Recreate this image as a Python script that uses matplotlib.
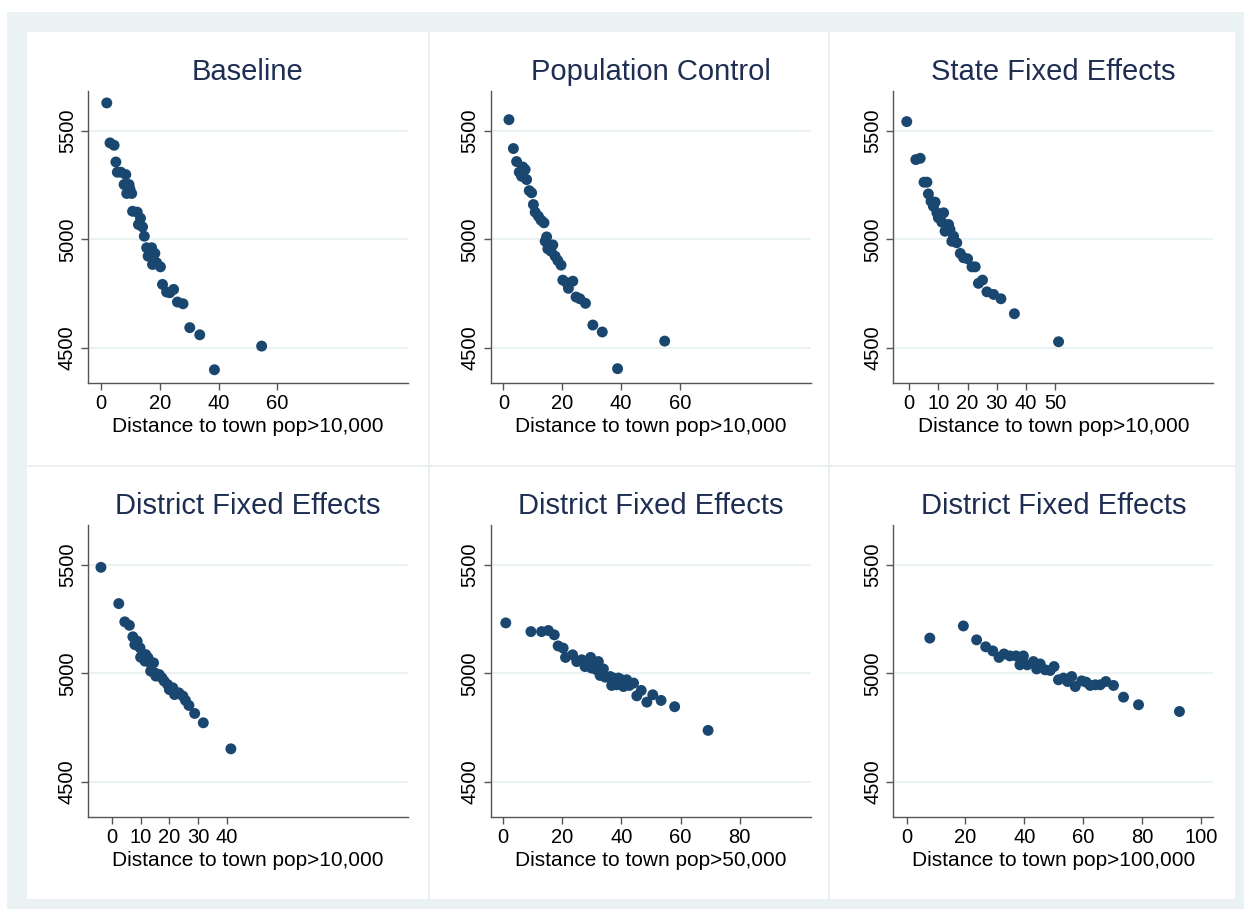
import numpy as np
import matplotlib
matplotlib.use("Agg")
import matplotlib.pyplot as plt
from matplotlib.patches import Rectangle
from matplotlib.lines import Line2D

plt.rcParams['font.family'] = ['Liberation Sans', 'DejaVu Sans']

# ---- data (binned means) ----
base_x = [1.9, 3.0, 4.4, 5.0, 5.5, 6.7, 8.4, 7.8, 9.5, 8.7, 10.4, 9.8, 10.7, 12.3,
          13.4, 12.7, 14.1, 14.7, 15.5, 17.2, 16.0, 18.3, 17.5, 18.9, 20.2, 20.9,
          22.3, 23.4, 24.7, 26.0, 27.9, 30.2, 33.6, 38.6, 54.7]
base_y = [5629, 5445, 5434, 5357, 5310, 5310, 5299, 5253, 5253, 5212, 5212, 5233,
          5130, 5126, 5098, 5069, 5058, 5015, 4962, 4962, 4923, 4936, 4885, 4893,
          4874, 4793, 4758, 4755, 4770, 4712, 4704, 4594, 4561, 4400, 4509]

pop_x = [1.9, 3.4, 4.5, 5.4, 6.6, 7.4, 6.2, 7.9, 8.8, 9.6, 10.2, 10.8, 11.9, 12.8,
         13.8, 14.7, 14.2, 15.1, 16.8, 16.2, 17.6, 18.5, 19.6, 20.2, 21.5, 23.6,
         22.1, 24.7, 26.0, 27.9, 30.4, 33.6, 38.8, 54.8]
pop_y = [5552, 5419, 5359, 5310, 5334, 5322, 5291, 5276, 5225, 5215, 5161, 5126,
         5107, 5089, 5077, 5012, 4992, 4957, 4975, 4946, 4923, 4903, 4882, 4813,
         4801, 4808, 4775, 4735, 4727, 4706, 4606, 4574, 4405, 4532]

state_x = [-0.8, 2.3, 3.8, 5.1, 6.1, 6.6, 7.5, 8.9, 8.3, 9.5, 11.8, 10.0, 11.2, 13.5,
           12.3, 14.0, 15.2, 14.6, 16.3, 17.5, 18.6, 20.0, 21.5, 22.6, 23.7, 25.1,
           26.6, 28.9, 31.4, 36.0, 51.1]
state_y = [5543, 5368, 5374, 5264, 5264, 5210, 5176, 5172, 5153, 5123, 5123, 5100,
           5080, 5069, 5038, 5046, 5015, 4992, 4985, 4936, 4916, 4911, 4874, 4874,
           4798, 4813, 4759, 4747, 4727, 4658, 4529]

dist10_x = [-3.8, 2.4, 4.5, 6.1, 7.3, 8.8, 8.0, 9.8, 10.0, 11.8, 12.6, 11.5, 13.3,
            14.5, 13.5, 14.9, 15.3, 16.5, 17.4, 18.2, 19.4, 20.0, 21.2, 21.8, 23.3,
            24.7, 25.6, 26.8, 28.8, 31.8, 41.4]
dist10_y = [5489, 5322, 5238, 5222, 5169, 5149, 5133, 5118, 5075, 5087, 5072, 5057,
            5049, 5049, 5011, 5003, 4988, 4995, 4980, 4965, 4949, 4926, 4934, 4903,
            4911, 4896, 4876, 4853, 4816, 4773, 4653]

dist50_x = [0.9, 9.4, 13.0, 15.3, 17.3, 18.6, 20.3, 21.1, 23.5, 24.9, 26.6, 27.7,
            29.6, 30.5, 29.9, 32.2, 31.6, 33.9, 32.8, 34.5, 36.2, 37.3, 36.7, 39.0,
            38.4, 40.1, 40.7, 41.8, 42.7, 44.1, 45.2, 46.7, 48.6, 50.6, 53.4, 58.0,
            69.3]
dist50_y = [5233, 5193, 5193, 5198, 5178, 5127, 5117, 5074, 5086, 5055, 5063, 5032,
            5074, 5048, 5025, 5055, 5017, 5021, 4991, 4983, 4986, 4979, 4945, 4979,
            4948, 4971, 4940, 4971, 4945, 4956, 4897, 4922, 4868, 4902, 4876, 4847,
            4738]

dist100_x = [7.9, 19.3, 23.8, 26.9, 29.3, 31.4, 33.1, 35.1, 37.2, 39.7, 38.5, 41.0,
             43.1, 44.2, 45.4, 47.1, 48.8, 50.1, 51.6, 53.3, 54.7, 56.1, 57.3, 59.5,
             61.0, 62.4, 64.1, 65.8, 67.7, 70.3, 73.7, 78.8, 92.7]
dist100_y = [5163, 5219, 5155, 5123, 5104, 5074, 5090, 5081, 5081, 5081, 5040, 5040,
             5055, 5021, 5044, 5017, 5014, 5032, 4971, 4979, 4963, 4986, 4940, 4966,
             4960, 4945, 4948, 4948, 4963, 4945, 4891, 4856, 4825]

titles = ["Baseline", "Population Control", "State Fixed Effects",
          "District Fixed Effects", "District Fixed Effects", "District Fixed Effects"]
xlabels = ["Distance to town pop>10,000", "Distance to town pop>10,000",
           "Distance to town pop>10,000", "Distance to town pop>10,000",
           "Distance to town pop>50,000", "Distance to town pop>100,000"]
xticks = [[0, 20, 40, 60], [0, 20, 40, 60], [0, 10, 20, 30, 40, 50],
          [0, 10, 20, 30, 40], [0, 20, 40, 60, 80], [0, 20, 40, 60, 80, 100]]
xlims = [(-4.5, 104.6), (-4.3, 104.4), (-5.4, 104.0),
         (-8.3, 103.0), (-4.2, 104.0), (-4.5, 104.2)]
yticks = [4500, 5000, 5500]
series = [(base_x, base_y), (pop_x, pop_y), (state_x, state_y),
          (dist10_x, dist10_y), (dist50_x, dist50_y), (dist100_x, dist100_y)]

W, H = 1244, 909
fig = plt.figure(figsize=(W / 100, H / 100), dpi=100)
fig.patch.set_facecolor('white')

# outer light band and white plot area, like the Stata graph region
fig.patches.append(Rectangle((7 / W, 0), 1 - 7 / W, 1 - 12 / H, transform=fig.transFigure,
                             facecolor='#eaf2f3', edgecolor='none', zorder=-10))
fig.patches.append(Rectangle((27 / W, 1 - 899 / H), (1235 - 27) / W, (899 - 32) / H,
                             transform=fig.transFigure, facecolor='white',
                             edgecolor='none', zorder=-9))
# panel separators
for xs in (429, 829):
    fig.lines.append(Line2D([xs / W, xs / W], [1 - 899 / H, 1 - 32 / H],
                            transform=fig.transFigure, color='#e6eef0', lw=1.2, zorder=-8))
fig.lines.append(Line2D([27 / W, 1235 / W], [1 - 466 / H, 1 - 466 / H],
                        transform=fig.transFigure, color='#e6eef0', lw=1.2, zorder=-8))

lefts = [88, 490.7, 893.3]
tops = [91, 525]
aw, ah = 320, 292

for i, (xs, ys) in enumerate(series):
    r, c = divmod(i, 3)
    ax = fig.add_axes([lefts[c] / W, 1 - (tops[r] + ah) / H, aw / W, ah / H])
    ax.set_facecolor('white')
    ax.scatter(xs, ys, s=62, color='#1a476f', edgecolors='none', zorder=3)
    ax.set_xlim(*xlims[i])
    ax.set_ylim(4339, 5684)
    ax.set_xticks(xticks[i])
    ax.set_yticks(yticks)
    ax.set_yticklabels([str(v) for v in yticks], rotation=90, va='center')
    ax.grid(axis='y', color='#eaf2f3', lw=1.5, zorder=0)
    ax.set_axisbelow(True)
    for s in ('top', 'right'):
        ax.spines[s].set_visible(False)
    for s in ('left', 'bottom'):
        ax.spines[s].set_color('#555555')
        ax.spines[s].set_linewidth(1.0)
    ax.tick_params(axis='both', colors='#555555', labelcolor='black', labelsize=14.5,
                   length=5, width=1.0, pad=3)
    ax.set_title(titles[i], fontsize=21, color='#1e2d52', pad=8)
    ax.set_xlabel(xlabels[i], fontsize=15, labelpad=3)

fig.savefig('out.png', dpi=100, facecolor=fig.get_facecolor())
